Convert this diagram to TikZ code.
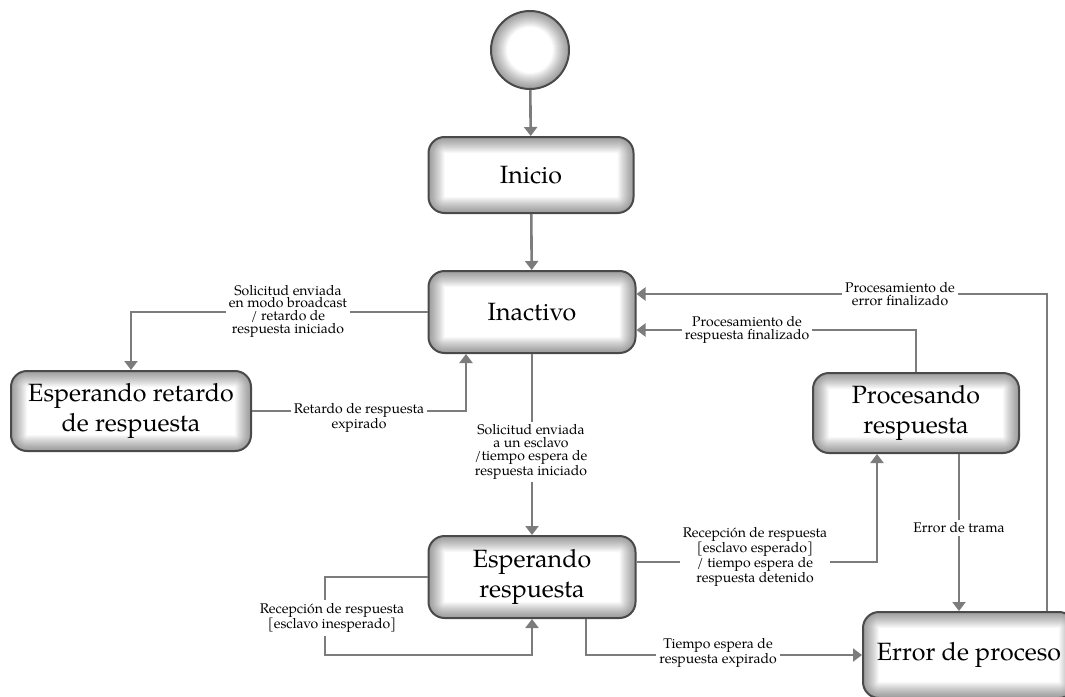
\documentclass[tikz,border=0pt]{standalone}
\usepackage{fontspec}
\setmainfont{TeX Gyre Pagella}
\usetikzlibrary{arrows.meta}
\definecolor{linegray}{HTML}{7C7C7C}
\definecolor{edgegray}{HTML}{4A4A4A}
\tikzset{
  glow/.style={path picture={
    \foreach \w in {2,4,...,32}{
      \draw[line width=\w pt, black, opacity=0.026, rounded corners=#1]
        (path picture bounding box.south west) rectangle (path picture bounding box.north east);
    }}},
  state/.style={rectangle, rounded corners=16pt, draw=edgegray, line width=2pt,
    fill=white, glow=16pt, align=center, inner sep=0pt,
    font=\fontsize{25}{30}\selectfont},
  initial/.style={circle, draw=edgegray, line width=2pt, fill=white,
    minimum size=78pt, inner sep=0pt, path picture={
      \foreach \w in {2,4,...,32}{
        \draw[line width=\w pt, black, opacity=0.026]
          (path picture bounding box.center) circle (39pt);
      }}},
  flow/.style={draw=linegray, line width=2.6pt, -{Triangle[length=9pt,width=13pt]}},
  lbl/.style={font=\fontsize{14}{12.6}\selectfont, align=center, fill=white,
    inner sep=3pt},
}
\begin{document}
\begin{tikzpicture}[x=1pt,y=-1pt]
  \fill[white] (0,0) rectangle (1065,696);
  \useasboundingbox (0,0) rectangle (1065,696);

  % states
  \node[initial] (start) at (530,50) {};
  \node[state, minimum width=205pt, minimum height=76pt] (inicio) at (531,175) {Inicio};
  \node[state, minimum width=207pt, minimum height=82pt] (inactivo) at (532,312) {Inactivo};
  \node[state, minimum width=240pt, minimum height=80pt] (espret) at (131,411)
    {Esperando retardo\\de respuesta};
  \node[state, minimum width=206pt, minimum height=80pt] (procesando) at (916,413)
    {Procesando\\respuesta};
  \node[state, minimum width=207pt, minimum height=82pt] (espresp) at (532,577)
    {Esperando\\respuesta};
  \node[state, minimum width=212pt, minimum height=86pt] (error) at (969,655)
    {Error de proceso};

  \coordinate (loopL) at (325,655);

  % transitions
  \draw[flow] (start) -- (inicio);
  \draw[flow] (inicio) -- (inactivo);
  \draw[flow] (inactivo.west) -| (espret.north);
  \draw[flow] (espret.east) -| ([xshift=-66pt]inactivo.south);
  \draw[flow] (inactivo) -- (espresp);
  \draw[flow] ([yshift=15pt]espresp.east) -| ([xshift=-39pt]procesando.south);
  \draw[flow] (espresp.west) -| (loopL) -| (espresp.south);
  \draw[flow] ([xshift=54pt]espresp.south) |- (error.west);
  \draw[flow] ([xshift=43pt]procesando.south) -- ([xshift=43pt]procesando.south |- error.north);
  \draw[flow] (procesando.north) |- ([yshift=-18pt]inactivo.east);
  \draw[flow] ([xshift=78pt]error.north) |- ([yshift=18pt]inactivo.east);

  % transition labels
  \node[lbl] (l1) at (288,311) {Solicitud enviada\\en modo broadcast\\/ retardo de\\respuesta iniciado};
  \node[lbl] (l2) at (359,418) {Retardo de respuesta\\expirado};
  \node[lbl] (l3) at (531,452) {Solicitud enviada\\a un esclavo\\/tiempo espera de\\respuesta iniciado};
  \node[lbl] (l4) at (755,557) {Recepción de respuesta\\{[}esclavo esperado{]}\\/ tiempo espera de\\respuesta detenido};
  \node[lbl] (l5) at (332,618) {Recepción de respuesta\\{[}esclavo inesperado{]}};
  \node[lbl] (l6) at (718,653) {Tiempo espera de\\respuesta expirado};
  \node[lbl] (l7) at (959,528) {Error de trama};
  \node[lbl] (l8) at (747,330) {Procesamiento de\\respuesta finalizado};
  \node[lbl] (l9) at (900,294) {Procesamiento de\\error finalizado};
\end{tikzpicture}
\end{document}
